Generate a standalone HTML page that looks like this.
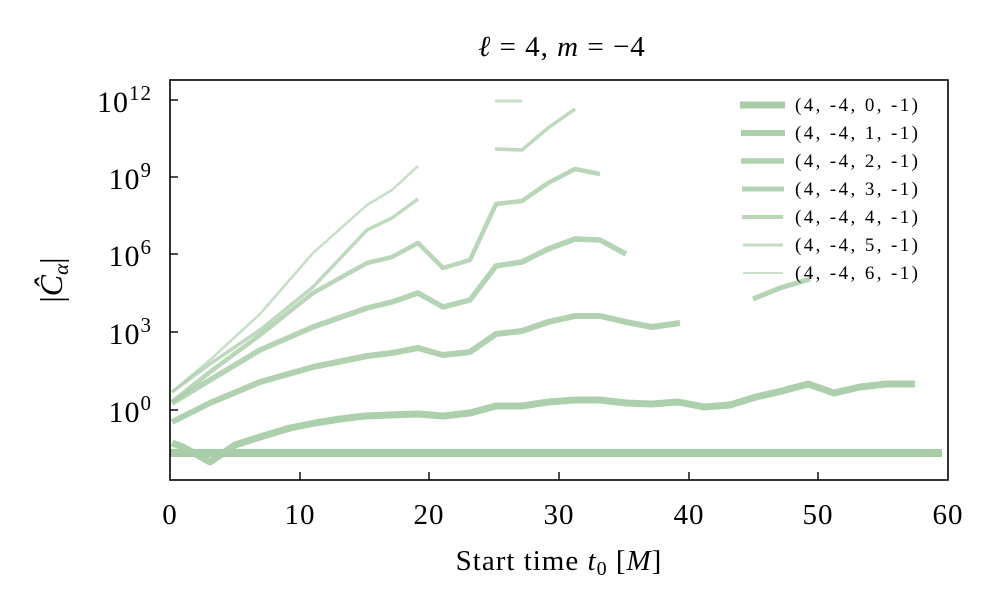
<!DOCTYPE html>
<html><head><meta charset="utf-8"><style>
body{margin:0;background:#fff}
svg text{font-family:"Liberation Serif","DejaVu Serif",serif;fill:#000}
</style></head><body>
<svg width="1000" height="610" viewBox="0 0 1000 610" xmlns="http://www.w3.org/2000/svg">
<rect width="1000" height="610" fill="#fff"/>
<g fill="none" stroke="#a8cca8" stroke-linejoin="round">
<polyline stroke-width="8" points="170,453 942,453"/>
<polyline stroke-width="7" opacity="0.95" points="172,443 183,447 210,462 235,445 260,437 290,428 315,423 340,419 365,416 390,415 418,414 443,416 470,413 496,406 522,406 548,402 575,400 600,400 626,403 652,404 678,402 704,407 730,405 756,397 782,391 808,384 834,393 860,387 886,384 915,384"/>
<polyline stroke-width="6" opacity="0.9" points="172,422 210,403 260,382 313,367 367,356 392,353 418,348 443,355 470,352 496,334 522,331 548,322 575,316 600,316 626,322 652,327 680,323"/>
<polyline stroke-width="5.5" opacity="0.85" points="172,403 210,380 260,350 313,327 367,308 392,302 418,293 443,307 470,300 496,266 522,262 548,249 575,239 600,240 626,254"/>
<polyline stroke-width="5" opacity="0.85" points="753,299 780,288 810,279"/>
<polyline stroke-width="4.5" opacity="0.8" points="172,402 210,372 260,335 313,293 367,263 392,257 418,243 443,268 470,260 496,204 522,201 548,183 575,169 600,174"/>
<polyline stroke-width="3.5" opacity="0.75" points="172,392 210,364 260,330 313,287 367,230 392,218 418,199"/>
<polyline stroke-width="3.5" opacity="0.75" points="495,149 522,150 548,128 575,109"/>
<polyline stroke-width="2.5" opacity="0.65" points="172,392 210,360 260,314 313,253 367,205 392,190 418,166"/>
<polyline stroke-width="3" opacity="0.65" points="495,101 522,101"/>
</g>
<rect x="170" y="80" width="778" height="400" fill="none" stroke="#000" stroke-width="1.6"/>
<g stroke="#000" stroke-width="1.4">
<line x1="170" y1="100" x2="178" y2="100"/><line x1="170" y1="177" x2="178" y2="177"/>
<line x1="170" y1="254" x2="178" y2="254"/><line x1="170" y1="332" x2="178" y2="332"/>
<line x1="170" y1="410" x2="178" y2="410"/>
<line x1="300" y1="480" x2="300" y2="472"/><line x1="429" y1="480" x2="429" y2="472"/>
<line x1="559" y1="480" x2="559" y2="472"/><line x1="689" y1="480" x2="689" y2="472"/>
<line x1="818" y1="480" x2="818" y2="472"/>
</g>
<g font-size="30" text-anchor="end" letter-spacing="1">
<text x="152" y="112">10<tspan font-size="21" dy="-12">12</tspan></text>
<text x="152" y="189">10<tspan font-size="21" dy="-12">9</tspan></text>
<text x="152" y="266">10<tspan font-size="21" dy="-12">6</tspan></text>
<text x="152" y="344">10<tspan font-size="21" dy="-12">3</tspan></text>
<text x="152" y="422">10<tspan font-size="21" dy="-12">0</tspan></text>
</g>
<g font-size="29" text-anchor="middle" letter-spacing="1">
<text x="170" y="524">0</text><text x="300" y="524">10</text><text x="429" y="524">20</text>
<text x="559" y="524">30</text><text x="689" y="524">40</text><text x="818" y="524">50</text>
<text x="948" y="524">60</text>
<text x="559" y="570">Start time <tspan font-style="italic">t</tspan><tspan font-size="20" dy="5">0</tspan><tspan dy="-5"> [</tspan><tspan font-style="italic">M</tspan>]</text>
<text x="562" y="56"><tspan font-style="italic">ℓ</tspan> = 4, <tspan font-style="italic">m</tspan> = −4</text>
</g>
<text transform="translate(62,280) rotate(-90)" font-size="32" text-anchor="middle">|<tspan font-style="italic">Ĉ</tspan><tspan font-size="21" dy="6" font-style="italic">α</tspan><tspan dy="-6">|</tspan></text>
<g stroke="#a8cca8" fill="none">
<line x1="740" y1="105" x2="785" y2="105" stroke-width="7"/>
<line x1="741" y1="133" x2="785" y2="133" stroke-width="6" opacity="0.95"/>
<line x1="741" y1="161" x2="784" y2="161" stroke-width="5.5" opacity="0.9"/>
<line x1="742" y1="189" x2="784" y2="189" stroke-width="5" opacity="0.85"/>
<line x1="742" y1="217" x2="783" y2="217" stroke-width="4" opacity="0.8"/>
<line x1="743" y1="245" x2="783" y2="245" stroke-width="3" opacity="0.7"/>
<line x1="743" y1="273" x2="783" y2="273" stroke-width="2" opacity="0.6"/>
</g>
<g font-size="19" letter-spacing="2.4">
<text x="795" y="111">(4, -4, 0, -1)</text>
<text x="795" y="139">(4, -4, 1, -1)</text>
<text x="795" y="167">(4, -4, 2, -1)</text>
<text x="795" y="195">(4, -4, 3, -1)</text>
<text x="795" y="223">(4, -4, 4, -1)</text>
<text x="795" y="251">(4, -4, 5, -1)</text>
<text x="795" y="279">(4, -4, 6, -1)</text>
</g>
</svg>
</body></html>
